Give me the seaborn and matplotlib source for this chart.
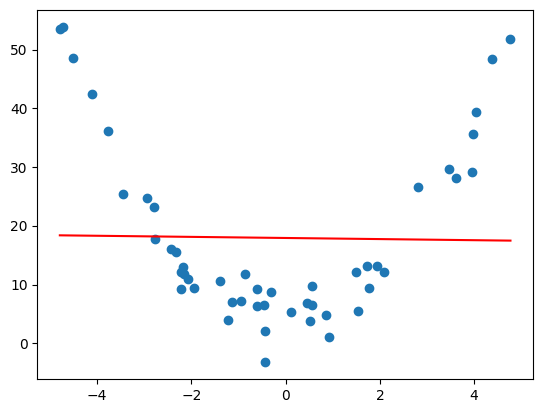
import matplotlib
matplotlib.use("Agg")
import matplotlib.pyplot as plt
import seaborn as sns
import pandas as pd

x_vals = [-4.79, -4.72, -4.51, -4.10, -3.76, -3.45, -2.94, -2.79, -2.77, -2.44,
          -2.33, -2.17, -2.23, -2.15, -2.08, -2.22, -1.95, -1.39, -0.86, -0.61,
          -0.31, -1.14, -0.95, -0.61, -0.45, -1.22, -0.43, -0.43, 0.11, 0.45,
          0.57, 0.51, 0.57, 0.85, 0.92, 1.49, 1.53, 1.72, 1.76, 1.93,
          2.08, 2.80, 3.46, 3.62, 3.95, 3.97, 4.04, 4.37, 4.77]
y_vals = [53.5, 53.9, 48.6, 42.4, 36.1, 25.5, 24.8, 23.3, 17.7, 16.1,
          15.6, 13.0, 12.1, 11.8, 11.0, 9.3, 9.5, 10.7, 11.9, 9.2,
          8.8, 7.1, 7.3, 6.3, 6.6, 4.0, 2.1, -3.2, 5.3, 6.8,
          6.5, 3.8, 9.8, 4.8, 1.1, 12.1, 5.6, 13.1, 9.5, 13.1,
          12.1, 26.7, 29.7, 28.2, 29.2, 35.7, 39.4, 48.4, 51.8]

fit_x = [-4.79, 4.77]
fit_y = [18.4, 17.5]

df = pd.DataFrame({"x": x_vals, "y": y_vals})
fit_df = pd.DataFrame({"x": fit_x, "y": fit_y})

fig = plt.figure(figsize=(5.43, 4.13), dpi=100)
ax = fig.add_axes([37.3 / 543, 1 - 379 / 413, (533 - 37.3) / 543, (379 - 10) / 413])

sns.scatterplot(data=df, x="x", y="y", ax=ax, color="#1f77b4", s=36,
                linewidth=1.0, edgecolor="#1f77b4")
sns.lineplot(data=fit_df, x="x", y="y", ax=ax, color="red", sort=False,
             estimator=None, linewidth=1.5)

ax.set_xlabel("")
ax.set_ylabel("")
ax.set_xticks([-4, -2, 0, 2, 4])
ax.set_yticks([0, 10, 20, 30, 40, 50])

fig.savefig("out.png", dpi=100)
